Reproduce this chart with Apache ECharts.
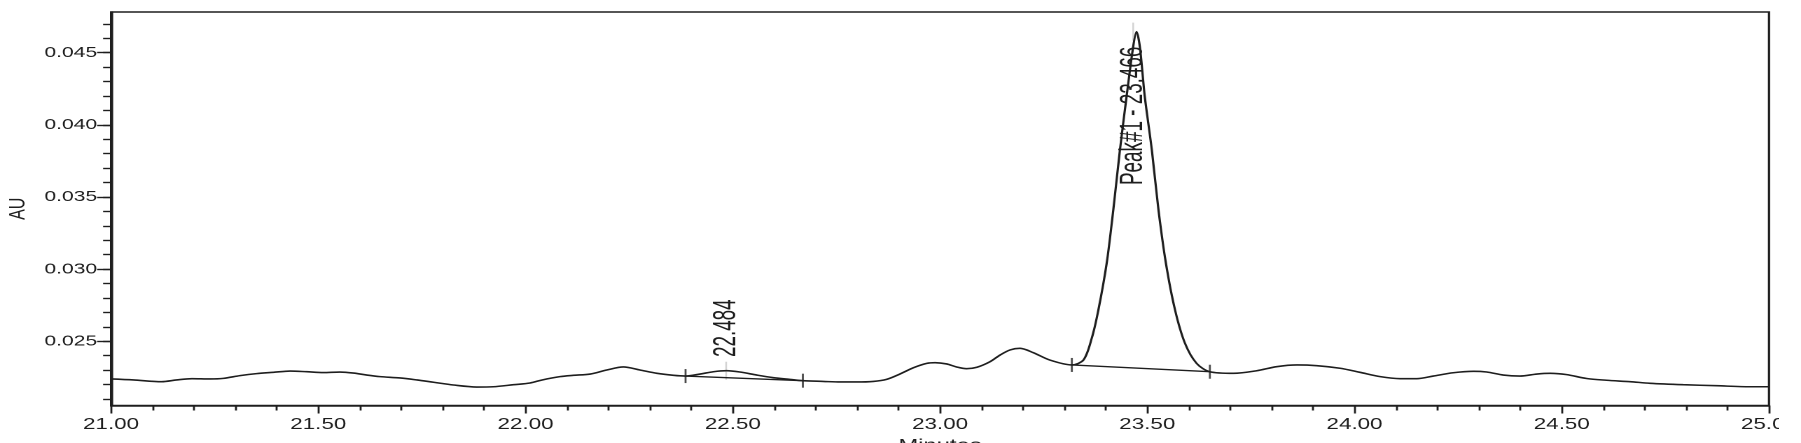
<!DOCTYPE html>
<html>
<head>
<meta charset="utf-8">
<script src="https://cdn.jsdelivr.net/npm/echarts@6/dist/echarts.min.js"></script>
<style>
html,body{margin:0;padding:0;background:#fff;overflow:hidden}
#wrap{width:1779px;height:443px;overflow:hidden;position:relative;background:#fff}
#chart{width:1286px;height:443px;transform:scaleX(1.40047);transform-origin:0 0}
</style>
</head>
<body>
<div id="wrap"><div id="chart"></div></div>
<script>
// ---- data ----
const times = [21.000,21.054,21.122,21.158,21.195,21.239,21.271,21.311,21.351,21.392,21.432,21.472,21.512,21.552,21.585,21.617,21.649,21.697,21.738,21.778,21.826,21.882,21.922,21.971,22.011,22.040,22.083,22.115,22.156,22.196,22.236,22.276,22.317,22.357,22.386,22.421,22.453,22.485,22.517,22.558,22.598,22.638,22.669,22.718,22.759,22.799,22.839,22.871,22.903,22.936,22.968,22.988,23.016,23.040,23.064,23.089,23.121,23.145,23.169,23.193,23.225,23.265,23.318,23.346,23.366,23.382,23.402,23.418,23.434,23.450,23.466,23.474,23.482,23.494,23.511,23.527,23.545,23.567,23.591,23.619,23.651,23.708,23.764,23.812,23.861,23.909,23.965,24.013,24.062,24.110,24.150,24.190,24.238,24.287,24.319,24.359,24.399,24.440,24.472,24.512,24.560,24.608,24.665,24.713,24.793,24.874,24.954,25.000];
const absorbance = [0.02239,0.02232,0.02220,0.02232,0.02241,0.02239,0.02243,0.02262,0.02276,0.02285,0.02294,0.02289,0.02283,0.02287,0.02280,0.02266,0.02255,0.02246,0.02232,0.02216,0.02197,0.02183,0.02185,0.02199,0.02211,0.02232,0.02255,0.02264,0.02273,0.02301,0.02322,0.02301,0.02278,0.02264,0.02259,0.02273,0.02289,0.02296,0.02287,0.02266,0.02248,0.02236,0.02227,0.02222,0.02218,0.02218,0.02222,0.02236,0.02273,0.02317,0.02347,0.02352,0.02343,0.02322,0.02310,0.02320,0.02359,0.02405,0.02440,0.02451,0.02421,0.02370,0.02336,0.02370,0.02521,0.02717,0.03040,0.03410,0.03826,0.04195,0.04542,0.04646,0.04542,0.04195,0.03826,0.03410,0.03040,0.02717,0.02486,0.02347,0.02289,0.02278,0.02296,0.02324,0.02336,0.02331,0.02313,0.02285,0.02255,0.02241,0.02241,0.02259,0.02282,0.02292,0.02287,0.02266,0.02259,0.02273,0.02278,0.02269,0.02242,0.02230,0.02220,0.02209,0.02199,0.02192,0.02185,0.02185];

const baselineStartTimes = [22.386, 23.318];
const baselineStartValues = [0.02259, 0.02336];
const baselineEndTimes = [22.669, 23.651];
const baselineEndValues = [0.02227, 0.02289];

const peakTimes = [22.484, 23.466];
const peakHeights = [0.02296, 0.04646];
const peakLabels = ['22.484', 'Peak#1 - 23.466'];

const xMin = 21, xMax = 25, xStep = 0.5;
const yMin = 0.02055, yMax = 0.04782;
const yLabelValues = [0.025, 0.030, 0.035, 0.040, 0.045];
const yMinorValues = [0.021,0.022,0.023,0.024,0.025,0.026,0.027,0.028,0.029,0.030,0.031,0.032,0.033,0.034,0.035,0.036,0.037,0.038,0.039,0.040,0.041,0.042,0.043,0.044,0.045,0.046,0.047];

const xAxisTitle = 'Minutes';
const yAxisTitle = 'AU';

// ---- chart ----
const ink = '#1e1e1e';
const font = '"Liberation Sans", Arial, sans-serif';

const trace = times.map((t, i) => [t, absorbance[i]]);

const baselineSeries = baselineStartTimes.map((t, i) => ({
  type: 'line',
  data: [[t, baselineStartValues[i]], [baselineEndTimes[i], baselineEndValues[i]]],
  showSymbol: false, silent: true, z: 3,
  lineStyle: { color: ink, width: 1.4 }
}));

const tickPoints = [];
baselineStartTimes.forEach((t, i) => {
  tickPoints.push([t, baselineStartValues[i]]);
  tickPoints.push([baselineEndTimes[i], baselineEndValues[i]]);
});

// vertical pixel offset of each rotated label's starting end from its peak point
const labelOffsets = [-13.7, 153.4];

const chart = echarts.init(document.getElementById('chart'), null, { renderer: 'canvas', devicePixelRatio: 2 });
chart.setOption({
  animation: false,
  backgroundColor: '#fff',
  grid: {
    left: 79.3, right: 22.85, top: 12, bottom: 37.5,
    outerBoundsMode: 'none', containLabel: false,
    show: true, borderColor: ink, borderWidth: 1.6, backgroundColor: 'transparent'
  },
  xAxis: {
    type: 'value', min: xMin, max: xMax, interval: xStep,
    name: xAxisTitle, nameLocation: 'middle', nameGap: 30,
    nameTextStyle: { fontFamily: font, fontSize: 17, color: ink },
    axisLine: { onZero: false, lineStyle: { color: ink, width: 1.6 } },
    axisTick: { show: true, length: 8, lineStyle: { color: ink, width: 1.4 } },
    minorTick: { show: true, splitNumber: 5, length: 5, lineStyle: { color: ink, width: 1.4 } },
    axisLabel: { fontFamily: font, fontSize: 16, color: ink, margin: 11, formatter: v => v.toFixed(2) },
    splitLine: { show: false }, minorSplitLine: { show: false }
  },
  yAxis: [{
    type: 'value', min: yMin, max: yMax,
    name: yAxisTitle, nameLocation: 'middle', nameGap: 58,
    nameTextStyle: { fontFamily: font, fontSize: 16, color: ink },
    axisLine: { show: true, onZero: false, lineStyle: { color: ink, width: 1.6 } },
    axisTick: { show: true, length: 5.7, customValues: yMinorValues, lineStyle: { color: ink, width: 1.4 } },
    axisLabel: { fontFamily: font, fontSize: 15, color: ink, margin: 10, customValues: yLabelValues, formatter: v => v.toFixed(3) },
    splitLine: { show: false }
  }, {
    type: 'value', min: yMin, max: yMax, position: 'left',
    axisLine: { show: false },
    axisTick: { show: true, length: 10, customValues: yLabelValues, lineStyle: { color: ink, width: 1.4 } },
    axisLabel: { show: false },
    splitLine: { show: false }
  }],
  series: [
    {
      name: 'trace', type: 'line', data: trace, showSymbol: false, silent: true,
      smooth: 0.3, z: 4,
      lineStyle: { color: ink, width: 1.6 }
    },
    ...baselineSeries,
    {
      name: 'peak markers', type: 'scatter', silent: true, z: 2,
      data: peakTimes.map((t, i) => [t, peakHeights[i]]),
      symbol: 'rect', symbolSize: [1.2, 18],
      itemStyle: { color: '#c8c8c8' }
    },
    {
      name: 'baseline ticks', type: 'scatter', silent: true, z: 5,
      data: tickPoints, symbol: 'rect', symbolSize: [1.4, 14],
      itemStyle: { color: ink }
    },
    {
      name: 'peak labels', type: 'custom', silent: true, z: 6,
      data: peakTimes.map((t, i) => [t, peakHeights[i], i]),
      renderItem: (params, api) => {
        const i = api.value(2);
        const p = api.coord([api.value(0), api.value(1)]);
        return {
          type: 'text',
          x: p[0], y: p[1] + labelOffsets[i],
          rotation: Math.PI / 2, scaleX: 0.82, scaleY: 1,
          style: {
            text: peakLabels[i], fontFamily: font, fontSize: 23, fill: ink,
            align: 'left', verticalAlign: 'middle'
          }
        };
      }
    }
  ]
});
</script>
</body>
</html>
